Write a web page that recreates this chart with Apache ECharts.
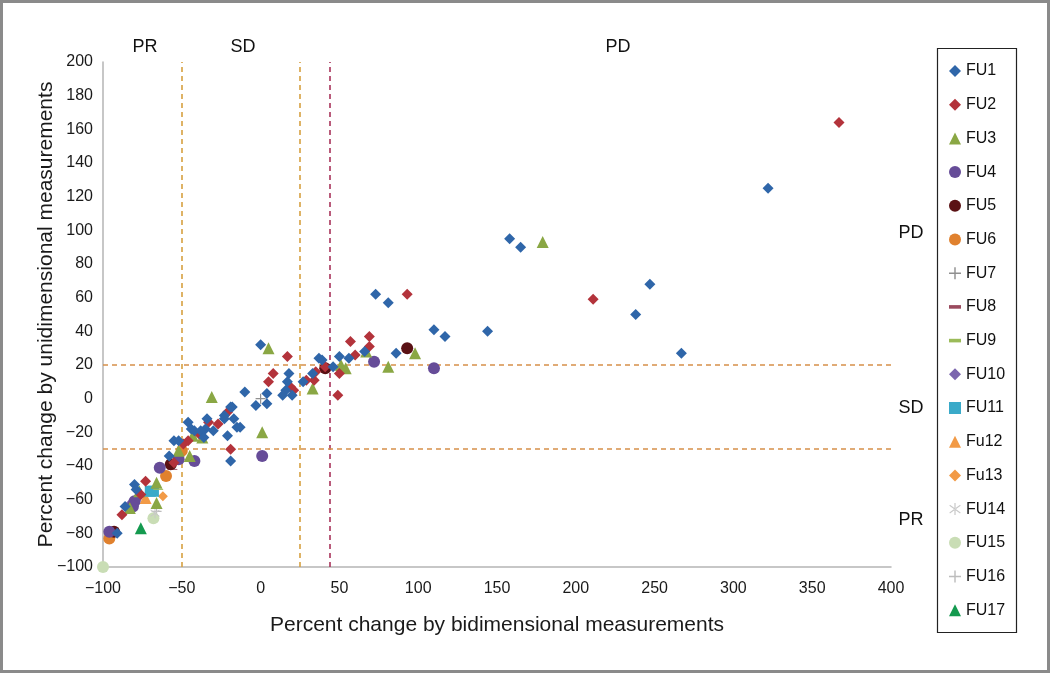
<!DOCTYPE html>
<html><head><meta charset="utf-8">
<script src="https://cdn.jsdelivr.net/npm/echarts@6/dist/echarts.min.js"></script>
<style>html,body{margin:0;padding:0;background:#fff}#c{width:1050px;height:673px}</style>
</head><body><div id="c"></div>
<script>
// ---- data ----
const seriesNames = ['FU1','FU2','FU3','FU4','FU5','FU6','FU7','FU8','FU9','FU10','FU11','Fu12','Fu13','FU14','FU15','FU16','FU17'];
const fu1 = [[322,125],[158,95],[165,90],[247,68],[238,50],[267,27],[117,37],[144,40],[110,41],[73,62],[81,57],[86,27],[66,28],[50,25],[56,24],[46,19],[37,24],[39,23],[33,15],[27,10],[18,15],[17,10],[16,5],[20,2],[14,2],[4,3],[4,-3],[-3,-4],[0,32],[-10,4],[-13,-17],[-18,-5],[-23,-10],[-17,-12],[-15,-17],[-21,-22],[-19,-37],[-19,-5],[-23,-12],[-34,-12],[-35,-18],[-30,-19],[-46,-14],[-44,-18],[-42,-19],[-38,-19],[-36,-23],[-55,-25],[-52,-25],[-58,-34],[-80,-51],[-79,-54],[-91,-80],[-86,-64]];
const fu2 = [[367,164],[211,59],[93,62],[57,34],[69,37],[69,31],[60,26],[50,15],[49,2],[17,25],[8,15],[5,10],[19,7],[21,5],[29,11],[35,16],[34,11],[41,19],[-33,-14],[-27,-15],[-21,-8],[-19,-30],[-39,-21],[-46,-25],[-49,-27],[-55,-38],[-73,-49],[-76,-57],[-88,-69]];
const fu3 = [[179,93],[98,27],[67,28],[81,19],[54,18],[51,20],[33,6],[5,30],[-31,1],[1,-20],[-37,-23],[-43,-22],[-45,-34],[-52,-31],[-66,-50],[-66,-62],[-83,-65],[-77,-55]];
const fu4 = [[110,18],[72,22],[1,-34],[-42,-37],[-52,-36],[-64,-41],[-80,-61],[-81,-64],[-96,-79]];
const fu5 = [[93,30],[41,18],[-57,-39],[-93,-79]];
const fu6 = [[-50,-31],[-60,-46],[-96,-83]];
const fu7 = [[0,0]];
const fu8 = [[-56,-42]];
const fu9 = [[-65,-54]];
const fu10 = [[-79,-60],[-82,-62]];
const fu11 = [[-70,-55],[-68,-55]];
const fu12 = [[-73,-59]];
const fu13 = [[-62,-58]];
const fu14 = [[-67,-68]];
const fu15 = [[-68,-71],[-100,-100]];
const fu16 = [[-66,-67]];
const fu17 = [[-76,-77]];
const seriesData = [fu1,fu2,fu3,fu4,fu5,fu6,fu7,fu8,fu9,fu10,fu11,fu12,fu13,fu14,fu15,fu16,fu17];
const xAxisRange = [-100, 400, 50];
const yAxisRange = [-100, 200, 20];
const vLines = [-50, 25, 44];
const hLines = [20, -30];
const xTitle = 'Percent change by bidimensional measurements';
const yTitle = 'Percent change by unidimensional measurements';

// ---- styles ----
const PLUS = 'path://M4.4,0H5.6V4.4H10V5.6H5.6V10H4.4V5.6H0V4.4H4.4Z';
const DASH = 'path://M0,0H10V3H0Z';
const STAR = 'path://M4.5,0H5.5V10H4.5Z M0.3,2.2L0.8,1.4L9.7,7.8L9.2,8.6Z M0.3,7.8L0.8,8.6L9.7,2.2L9.2,1.4Z';
const styles = [
  {symbol:'diamond', size:11, color:'#2F66A9'},
  {symbol:'diamond', size:11, color:'#B3333B'},
  {symbol:'triangle', size:12, color:'#8AA744'},
  {symbol:'circle', size:12, color:'#664C98'},
  {symbol:'circle', size:12, color:'#5A1114'},
  {symbol:'circle', size:12, color:'#E0812E'},
  {symbol:PLUS, size:10, color:'#909090'},
  {symbol:DASH, size:[10,3], color:'#9A4A5E'},
  {symbol:DASH, size:[10,3], color:'#9BBB59'},
  {symbol:'diamond', size:11, color:'#7B65AE'},
  {symbol:'rect', size:11, color:'#3AAAC9'},
  {symbol:'triangle', size:12, color:'#F29A46'},
  {symbol:'diamond', size:10, color:'#F29A46'},
  {symbol:STAR, size:10, color:'#C8C8C8'},
  {symbol:'circle', size:12, color:'#C9DDB5'},
  {symbol:PLUS, size:10, color:'#BDBDBD'},
  {symbol:'triangle', size:12, color:'#149A4F'}
];
const minus = v => String(v).replace('-', '\u2212');

const series = seriesNames.map((n, i) => ({
  name: n, type: 'scatter', data: seriesData[i],
  symbol: styles[i].symbol, symbolSize: styles[i].size, symbolKeepAspect: true,
  itemStyle: {color: styles[i].color, opacity: 1},
  z: 20 - i
}));
series.push({
  type: 'scatter', data: [], silent: true, z: 1,
  markLine: {
    silent: true, symbol: 'none', label: {show: false},
    data: [
      {xAxis: vLines[0], lineStyle: {color: '#D6A040', type: [5,4], width: 1.6}},
      {xAxis: vLines[1], lineStyle: {color: '#D6A040', type: [5,4], width: 1.6}},
      {xAxis: vLines[2], lineStyle: {color: '#A8335A', type: [5,4], width: 1.6}},
      {yAxis: hLines[0], lineStyle: {color: '#D6904A', type: [5,4], width: 1.6}},
      {yAxis: hLines[1], lineStyle: {color: '#D6904A', type: [5,4], width: 1.6}}
    ]
  }
});

const legendData = seriesNames.map((n, i) => ({name: n, icon: styles[i].symbol}));

const chart = echarts.init(document.getElementById('c'), null, {renderer: 'canvas'});
const font = 'Liberation Sans, Arial, sans-serif';
chart.setOption({
  animation: false,
  backgroundColor: '#fff',
  textStyle: {fontFamily: font},
  grid: {left: 103, right: 159, top: 62, bottom: 106},
  xAxis: {
    type: 'value', min: xAxisRange[0], max: xAxisRange[1], interval: xAxisRange[2],
    name: xTitle, nameLocation: 'middle', nameGap: 48, nameMoveOverlap: false,
    nameTextStyle: {fontSize: 21, color: '#1a1a1a', fontFamily: font},
    axisLine: {onZero: false, lineStyle: {color: '#b5b5b5', width: 1.5}},
    axisTick: {show: false},
    splitLine: {show: false},
    axisLabel: {fontSize: 16, color: '#1a1a1a', margin: 14, formatter: minus, fontFamily: font}
  },
  yAxis: {
    type: 'value', min: yAxisRange[0], max: yAxisRange[1], interval: yAxisRange[2],
    name: yTitle, nameLocation: 'middle', nameGap: 46, nameMoveOverlap: false,
    nameTextStyle: {fontSize: 21, color: '#1a1a1a', fontFamily: font},
    axisLine: {onZero: false, lineStyle: {color: '#b5b5b5', width: 1.5}},
    axisTick: {show: false},
    splitLine: {show: false},
    axisLabel: {fontSize: 16, color: '#1a1a1a', margin: 10, formatter: minus, fontFamily: font}
  },
  legend: {
    orient: 'vertical', left: 944, top: 58,
    itemWidth: 12, itemHeight: 12, itemGap: 17.7,
    textStyle: {fontSize: 16, color: '#111', fontFamily: font},
    data: legendData
  },
  graphic: [
    {type: 'rect', shape: {x: 1.5, y: 1.5, width: 1047, height: 670}, style: {fill: 'none', stroke: '#8a8a8a', lineWidth: 3}, silent: true},
    {type: 'rect', shape: {x: 937.5, y: 48.5, width: 79, height: 584}, style: {fill: '#fff', stroke: '#222', lineWidth: 1.2}, silent: true, z: -1},
    {type: 'text', style: {text: 'PR', x: 145, y: 47, textAlign: 'center', textVerticalAlign: 'middle', fontSize: 18, fill: '#111', fontFamily: font}},
    {type: 'text', style: {text: 'SD', x: 243, y: 47, textAlign: 'center', textVerticalAlign: 'middle', fontSize: 18, fill: '#111', fontFamily: font}},
    {type: 'text', style: {text: 'PD', x: 618, y: 47, textAlign: 'center', textVerticalAlign: 'middle', fontSize: 18, fill: '#111', fontFamily: font}},
    {type: 'text', style: {text: 'PD', x: 911, y: 233, textAlign: 'center', textVerticalAlign: 'middle', fontSize: 18, fill: '#111', fontFamily: font}},
    {type: 'text', style: {text: 'SD', x: 911, y: 408, textAlign: 'center', textVerticalAlign: 'middle', fontSize: 18, fill: '#111', fontFamily: font}},
    {type: 'text', style: {text: 'PR', x: 911, y: 520, textAlign: 'center', textVerticalAlign: 'middle', fontSize: 18, fill: '#111', fontFamily: font}}
  ],
  series: series
});
</script>
</body></html>
